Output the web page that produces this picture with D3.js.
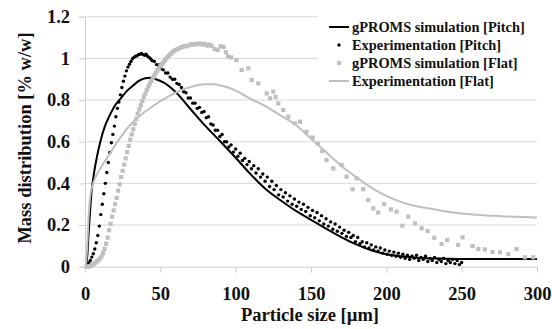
<!DOCTYPE html>
<html><head><meta charset="utf-8">
<script src="https://cdn.jsdelivr.net/npm/d3@7"></script>
<style>body{margin:0;background:#fff}svg{display:block}
text{font-family:"Liberation Serif","DejaVu Serif",serif !important;font-weight:bold}</style>
</head><body><svg id="c" width="552" height="329"></svg>
<script>
const xTicks = [0, 50, 100, 150, 200, 250, 300];
const yTicks = [0, 0.2, 0.4, 0.6, 0.8, 1, 1.2];
const yTickLabels = ["0", "0.2", "0.4", "0.6", "0.8", "1", "1.2"];
const seriesNames = ["gPROMS simulation [Pitch]", "Experimentation [Pitch]", "gPROMS simulation [Flat]", "Experimentation [Flat]"];

const pitchSim = [[0.5,0],[1.5,0.05],[2.5,0.17],[3.5,0.28],[4.5,0.37],[6,0.45],[8,0.53],[10,0.595],[13,0.67],[16,0.72],[20,0.775],[24,0.81],[28,0.845],[32,0.87],[36,0.893],[40,0.905],[43,0.907],[47,0.9],[52,0.885],[60,0.84],[70,0.757],[80,0.675],[90,0.6],[100,0.523],[110,0.443],[120,0.372],[130,0.318],[140,0.268],[150,0.225],[160,0.183],[170,0.142],[180,0.107],[190,0.079],[200,0.06],[210,0.05],[220,0.043],[235,0.039],[250,0.037],[275,0.037],[300,0.037]];

const pitchExp = [[1.5,0.008],[2.5,0.018],[3.5,0.03],[4.5,0.046],[5.5,0.062],[6.5,0.085],[7.5,0.115],[8.5,0.15],[9.5,0.195],[10.5,0.25],[11.5,0.3],[12.5,0.35],[13.5,0.4],[14.5,0.452],[15.5,0.5],[16.5,0.548],[17.5,0.595],[18.5,0.635],[19.5,0.675],[20.5,0.72],[21.5,0.76],[22.5,0.79],[23.5,0.825],[24.5,0.86],[25.5,0.89],[26.5,0.915],[27.5,0.94],[28.5,0.958],[29.5,0.972],[30.5,0.985],[31.5,0.998],[32.5,1.005],[33.5,1.01],[34.5,1.012],[35.5,1.018],[36.5,1.02],[37.5,1.024],[38.5,1.018],[39.5,1.015],[40.5,1.02],[41.5,1.01],[42.5,1.005],[43.5,0.998],[44.5,0.99],
[46,0.985],[47.5,0.97],[49,0.968],[50.5,0.95],[52,0.945],[53.5,0.93],[55,0.93],[56.5,0.91],[58,0.9],[59.5,0.9],[61,0.88],[62.5,0.875],[64,0.86],[65.5,0.84],[67,0.835],[68.5,0.81],[70,0.81],[71.5,0.785],[73,0.785],[74.5,0.76],[76,0.765],[77.5,0.74],[79,0.745],[80.5,0.715],[82,0.72],[83.5,0.685],[85,0.68],[86.5,0.655],[88,0.655],[89.5,0.625],[91,0.635],[92.5,0.6],[94,0.6],[95.5,0.575],[97,0.585],[98.5,0.55],[100,0.565],[101.5,0.53],[103,0.545],[104.5,0.51],[106,0.52],[107.5,0.49],[109,0.505],[110.5,0.47],[112,0.485],[113.5,0.45],[115,0.47],[116.5,0.43],[118,0.445],[119.5,0.41],[121,0.43],[122.5,0.385],[124,0.41],[125.5,0.37],[127,0.39],[128.5,0.345],[130,0.37],[131.5,0.335],[133,0.355],[134.5,0.315],[136,0.34],[137.5,0.3],[139,0.325],[140.5,0.29],[142,0.31],[143.5,0.275],[145,0.3],[146.5,0.265],[148,0.285],[149.5,0.245],[151,0.27],[152.5,0.235],[154,0.26],[155.5,0.22],[157,0.245],[158.5,0.205],[160,0.23],[161.5,0.195],[163,0.215],[164.5,0.18],[166,0.205],[167.5,0.17],[169,0.19],[170.5,0.16],[172,0.175],[173.5,0.145],[175,0.165],[176.5,0.14],[178,0.15],[179.5,0.12],[181,0.14],[182.5,0.11],[184,0.12],[185.5,0.095],[187,0.115],[188.5,0.09],[190,0.105],[191.5,0.08],[193,0.095],[194.5,0.075],[196,0.09],[197.5,0.065],[199,0.08],[200.5,0.06],[202,0.075],[203.5,0.055],[205,0.07],[206.5,0.05],[208,0.065],[209.5,0.045],[211,0.06],[212.5,0.04],[214,0.055],[215.5,0.035],[217,0.05],[218.5,0.04],[220,0.055],[221.5,0.03],[223,0.045],[224.5,0.035],[226,0.05],[227.5,0.025],[229,0.04],[230.5,0.03],[232,0.045],[233.5,0.02],[235,0.035],[236.5,0.025],[238,0.04],[239.5,0.015],[241,0.03],[242.5,0.02],[244,0.035],[245.5,0.015],[247,0.03],[248.5,0.01],[250,0.02]];

const flatSim = [[1,0],[2,0],[3,0.002],[4,0.005],[5,0.01],[6,0.015],[7,0.02],[8,0.026],[9,0.033],[10,0.04],[11,0.05],[12,0.065],[13,0.085],[14,0.11],[15,0.14],[16,0.175],[17,0.205],[18,0.24],[19,0.27],[20,0.3],[21,0.33],[22,0.365],[23,0.395],[24,0.43],[25,0.46],[26,0.49],[27,0.52],[28,0.55],[29,0.58],[30,0.61],[31,0.635],[32,0.66],[33,0.685],[34,0.71],[35,0.735],[36,0.755],[37,0.775],[38,0.795],[39,0.815],[40,0.83],[41,0.848],[42,0.864],[43,0.878],[44,0.892],[45,0.905],[46,0.918],[47,0.93],[48,0.942],[49,0.953],[50,0.963],[51,0.972],[52,0.98],[53,0.99],[54,1.0],[55,1.008],[56,1.015],[57,1.022],[58,1.03],[59,1.036],[60,1.04],[61.5,1.045],[63,1.05],[64.5,1.055],[66,1.06],[67.5,1.058],[69,1.063],[70.5,1.068],[72,1.065],[73.5,1.07],[75,1.068],[76.5,1.072],[78,1.066],[79.5,1.07],[81,1.062],[82.5,1.066],[84,1.06],[86,1.045],[88,1.04],[90,1.058],[92,1.055],[93.5,1.03],[95,1.01],[97,1.005],[100.5,0.992],[104,0.944],[108.4,0.952],[110.6,0.896],[115,0.88],[120.6,0.832],[122.8,0.808],[125,0.84],[126.5,0.815],[128.3,0.784],[131.6,0.752],[135,0.72],[139.3,0.688],[142.7,0.696],[147,0.648],[151,0.62],[154.5,0.59],[157.5,0.555],[160.3,0.512],[164.8,0.472],[170.3,0.488],[173.6,0.432],[177.6,0.372],[180.3,0.424],[184.7,0.372],[188,0.32],[191.3,0.28],[194.6,0.26],[198.6,0.3],[203,0.275],[206.8,0.264],[210.6,0.197],[214.5,0.24],[219,0.208],[223.4,0.184],[227.4,0.171],[231.8,0.139],[236.7,0.109],[240.4,0.128],[247.7,0.104],[250.6,0.141],[257.2,0.099],[261,0.085],[265.4,0.083],[270.5,0.07],[275.4,0.069],[281,0.061],[286.4,0.085],[292,0.045],[297.5,0.045]];

const flatExp = [[0.5,0],[1.5,0.1],[2.5,0.25],[3.5,0.34],[5,0.39],[7,0.43],[10,0.47],[14,0.515],[18,0.56],[22,0.605],[26,0.645],[30,0.68],[35,0.715],[40,0.745],[45,0.77],[50,0.795],[55,0.815],[60,0.835],[65,0.85],[70,0.862],[75,0.872],[80,0.876],[85,0.876],[90,0.87],[95,0.86],[100,0.845],[110,0.805],[120,0.77],[130,0.725],[140,0.68],[150,0.615],[160,0.55],[170,0.485],[180,0.43],[190,0.38],[200,0.34],[210,0.31],[220,0.29],[230,0.278],[240,0.265],[250,0.255],[260,0.249],[270,0.245],[280,0.241],[290,0.238],[300,0.236]];

const svg = d3.select("#c");
const x = d3.scaleLinear().domain([0, 300]).range([85, 537]);
const y = d3.scaleLinear().domain([0, 1.2]).range([266.7, 16.7]);
const grayC = "#bfbfbf";

svg.append("g").selectAll("line").data(yTicks.slice(1)).join("line")
  .attr("x1", x(0)).attr("x2", x(300)).attr("y1", d => y(d)).attr("y2", d => y(d))
  .attr("stroke", "#d9d9d9").attr("stroke-width", 1);

const xAxis = d3.axisBottom(x).tickValues(xTicks).tickSize(6).tickPadding(14).tickFormat(d3.format("d"));
const gx = svg.append("g").attr("transform", `translate(0,${y(0)})`).call(xAxis);
const yAxis = d3.axisLeft(y).tickValues(yTicks).tickSize(6).tickPadding(9).tickFormat((d, i) => yTickLabels[i]);
const gy = svg.append("g").attr("transform", `translate(${x(0)},0)`).call(yAxis);
[gx, gy].forEach(g => {
  g.attr("font-family", null);
  g.select(".domain").attr("stroke", "#d0d0d0");
  g.selectAll(".tick line").attr("stroke", "#d0d0d0");
  g.selectAll("text").attr("font-size", 18.5).attr("fill", "#111");
});

svg.append("text").attr("x", 310).attr("y", 321).attr("text-anchor", "middle")
  .attr("font-size", 18.5).attr("fill", "#111").text("Particle size [µm]");
svg.append("text").attr("transform", "translate(31,138) rotate(-90)").attr("text-anchor", "middle")
  .attr("font-size", 18.5).attr("fill", "#111").text("Mass distribution [% w/w]");

svg.append("rect").attr("x", 318).attr("y", 8).attr("width", 228).attr("height", 84).attr("fill", "#fff");

const line = d3.line().x(d => x(d[0])).y(d => y(d[1])).curve(d3.curveMonotoneX);

svg.append("path").datum(pitchSim).attr("d", line).attr("fill", "none").attr("stroke", "#000").attr("stroke-width", 2);
svg.append("g").selectAll("circle").data(pitchExp).join("circle")
  .attr("cx", d => x(d[0])).attr("cy", d => y(d[1])).attr("r", 1.7).attr("fill", "#000");
svg.append("g").selectAll("rect").data(flatSim).join("rect")
  .attr("x", d => x(d[0]) - 2.1).attr("y", d => y(d[1]) - 2.1).attr("width", 4.2).attr("height", 4.2).attr("fill", grayC);
svg.append("path").datum(flatExp).attr("d", line).attr("fill", "none").attr("stroke", grayC).attr("stroke-width", 2);

const lg = svg.append("g");
const rows = [27, 45, 63, 81];
seriesNames.forEach((name, i) => {
  const cy = rows[i];
  if (i === 0 || i === 3) {
    lg.append("line").attr("x1", 329).attr("x2", 349).attr("y1", cy).attr("y2", cy)
      .attr("stroke", i === 0 ? "#000" : grayC).attr("stroke-width", 2);
  } else if (i === 1) {
    lg.append("circle").attr("cx", 339).attr("cy", cy).attr("r", 1.7).attr("fill", "#000");
  } else {
    lg.append("rect").attr("x", 336.9).attr("y", cy - 2.1).attr("width", 4.2).attr("height", 4.2).attr("fill", grayC);
  }
  lg.append("text").attr("x", 352).attr("y", cy + 5).attr("font-size", 14.4).attr("fill", "#111").text(name);
});
</script></body></html>
